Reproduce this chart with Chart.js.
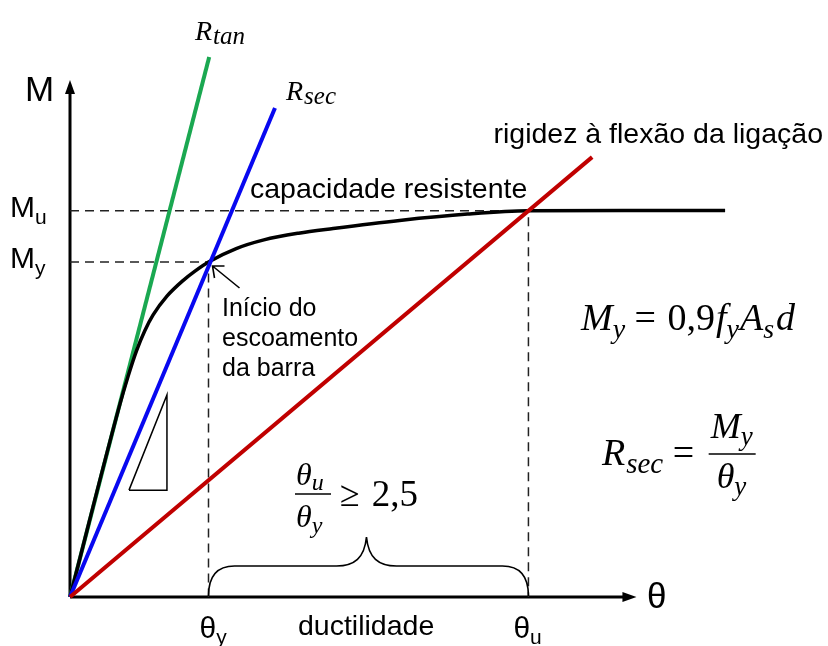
<!DOCTYPE html>
<html>
<head>
<meta charset="utf-8">
<script src="https://cdn.jsdelivr.net/npm/chart.js@4.4.1/dist/chart.umd.min.js"></script>
<style>
  html, body { margin: 0; padding: 0; background: #ffffff; }
  canvas { display: block; }
</style>
</head>
<body>
<canvas id="c" width="828" height="646"></canvas>
<script>
// Moment–rotation curve of a beam–column connection (θ in arbitrary units, M in % of My)
const curveTheta = [0, 3.6, 4.2, 4.8, 5.4, 6.0, 7.0, 8.2, 9.0, 10.0, 12.0, 14.0, 16.5, 19.0, 23.8, 28.7, 33.1, 40.0, 47.3];
const curveM     = [0, 57.5, 66.0, 73.5, 79.5, 84.2, 89.8, 94.6, 97.2, 100, 104.0, 106.6, 108.6, 110.0, 112.4, 114.3, 115.3, 115.4, 115.4];

// Characteristic points
const thetaY = 10.0;   // rotation at start of yielding
const thetaU = 33.1;   // ultimate rotation
const momentY = 100;   // yield moment
const momentU = 115.3; // ultimate moment

// Stiffness lines
const tanTheta = [0, 10.05];  const tanM = [0, 161.2];   // initial tangent stiffness
const secTheta = [0, 14.8];   const secM = [0, 146];     // secant stiffness
const rigTheta = [0, 37.7];   const rigM = [0, 131.3];   // connection flexural stiffness

// Slope triangle marker
const triTheta = [4.26, 7.0, 7.0, 4.26];
const triM     = [31.9, 31.9, 60.3, 31.9];

// Axis extents
const axisThetaMax = 40.9;
const axisMMax = 154.3;

const pts = (xs, ys) => xs.map((x, i) => ({ x: x, y: ys[i] }));

const SANS = '"Liberation Sans", Arial, sans-serif';
const SERIF = '"Liberation Serif", "Times New Roman", serif';

function drawRuns(ctx, x, y, parts) {
  for (const p of parts) {
    ctx.font = p.f;
    ctx.fillText(p.t, x + (p.dx || 0), y + (p.dy || 0));
    x += ctx.measureText(p.t).width + (p.dx || 0) + (p.gap || 0);
  }
  return x;
}

const diagramPlugin = {
  id: 'diagram',
  beforeDatasetsDraw(chart) {
    const ctx = chart.ctx;
    const xs = chart.scales.x, ys = chart.scales.y;
    const ox = xs.getPixelForValue(0), oy = ys.getPixelForValue(0);
    const tx = xs.getPixelForValue(axisThetaMax), ty = ys.getPixelForValue(axisMMax);
    ctx.save();
    ctx.strokeStyle = '#000'; ctx.fillStyle = '#000'; ctx.lineWidth = 3;
    ctx.beginPath();
    ctx.moveTo(ox, oy); ctx.lineTo(ox, ty + 10);
    ctx.moveTo(ox, oy); ctx.lineTo(tx - 10, oy);
    ctx.stroke();
    // arrow heads
    ctx.beginPath();
    ctx.moveTo(ox, ty); ctx.lineTo(ox - 5, ty + 14); ctx.lineTo(ox + 5, ty + 14); ctx.closePath(); ctx.fill();
    ctx.beginPath();
    ctx.moveTo(tx, oy); ctx.lineTo(tx - 14, oy - 5); ctx.lineTo(tx - 14, oy + 5); ctx.closePath(); ctx.fill();
    ctx.restore();
  },
  afterDatasetsDraw(chart) {
    const ctx = chart.ctx;
    const xs = chart.scales.x, ys = chart.scales.y;
    const X = v => xs.getPixelForValue(v), Y = v => ys.getPixelForValue(v);
    ctx.save();
    ctx.fillStyle = '#000'; ctx.strokeStyle = '#000';
    ctx.textBaseline = 'alphabetic';

    // brace spanning the ductility range
    const xL = X(thetaY), xR = X(thetaU), y0 = Y(0);
    const yh = y0 - 31, yp = y0 - 60, xm = (xL + xR) / 2 - 2;
    ctx.lineWidth = 1.6;
    ctx.beginPath();
    ctx.moveTo(xL, y0 - 1);
    ctx.bezierCurveTo(xL, yh + 10, xL + 8, yh, xL + 26, yh);
    ctx.lineTo(xm - 30, yh);
    ctx.bezierCurveTo(xm - 12, yh, xm - 2, yh - 8, xm, yp);
    ctx.bezierCurveTo(xm + 2, yh - 8, xm + 12, yh, xm + 30, yh);
    ctx.lineTo(xR - 26, yh);
    ctx.bezierCurveTo(xR - 8, yh, xR, yh + 10, xR, y0 - 1);
    ctx.stroke();

    // pointer to the yield point
    const px = X(thetaY) + 4, py = Y(momentY) + 4;
    ctx.lineWidth = 1.6;
    ctx.beginPath();
    ctx.moveTo(px + 27, py + 22); ctx.lineTo(px, py);
    ctx.moveTo(px + 12, py); ctx.lineTo(px, py); ctx.lineTo(px + 2, py + 12);
    ctx.stroke();

    // axis labels
    ctx.font = '35px ' + SANS;
    ctx.fillText('M', 25, 101);
    ctx.fillText('θ', 647, 608);
    drawRuns(ctx, 10, Y(momentU) + 6, [{ t: 'M', f: '30px ' + SANS }, { t: 'u', f: '21px ' + SANS, dy: 7 }]);
    drawRuns(ctx, 10, Y(momentY) + 6, [{ t: 'M', f: '30px ' + SANS }, { t: 'y', f: '21px ' + SANS, dy: 7 }]);
    drawRuns(ctx, X(thetaY) - 9, 638, [{ t: 'θ', f: '30px ' + SANS }, { t: 'y', f: '21px ' + SANS, dy: 6 }]);
    drawRuns(ctx, X(thetaU) - 15, 638, [{ t: 'θ', f: '30px ' + SANS }, { t: 'u', f: '21px ' + SANS, dy: 6 }]);

    ctx.font = '28.5px ' + SANS;
    ctx.fillText('ductilidade', 298, 635);
    ctx.fillText('capacidade resistente', 250, 198);
    ctx.textAlign = 'right';
    ctx.fillText('rigidez à flexão da ligação', 823, 143);
    ctx.textAlign = 'left';
    ctx.font = '25px ' + SANS;
    ctx.fillText('Início do', 222, 316);
    ctx.fillText('escoamento', 222, 346);
    ctx.fillText('da barra', 222, 376);

    // formulas
    const I = s => 'italic ' + s + 'px ' + SERIF;
    const U = s => s + 'px ' + SERIF;
    drawRuns(ctx, 195, 40, [{ t: 'R', f: I(28) }, { t: 'tan', f: I(25), dy: 4, dx: 1 }]);
    drawRuns(ctx, 286, 100, [{ t: 'R', f: I(28) }, { t: 'sec', f: I(25), dy: 4, dx: 1 }]);
    drawRuns(ctx, 581, 330, [
      { t: 'M', f: I(38) }, { t: 'y', f: I(28), dy: 8 },
      { t: ' = ', f: U(38), gap: 2 }, { t: '0,9', f: U(38) },
      { t: 'f', f: I(38), dx: 1 }, { t: 'y', f: I(28), dy: 8 },
      { t: 'A', f: I(38), dx: 1 }, { t: 's', f: I(28), dy: 8 },
      { t: 'd', f: I(38), dx: 2 }
    ]);
    let xe = drawRuns(ctx, 602, 465, [
      { t: 'R', f: I(38) }, { t: 'sec', f: I(29), dy: 8, dx: 1 }, { t: ' = ', f: U(38), gap: 5 }
    ]);
    // fraction My / θy
    ctx.lineWidth = 1.6;
    ctx.beginPath(); ctx.moveTo(xe, 454); ctx.lineTo(xe + 47, 454); ctx.stroke();
    drawRuns(ctx, xe + 2, 438, [{ t: 'M', f: I(36) }, { t: 'y', f: I(27), dy: 7 }]);
    drawRuns(ctx, xe + 8, 488, [{ t: 'θ', f: I(36) }, { t: 'y', f: I(27), dy: 7 }]);

    // ductility ratio
    ctx.beginPath(); ctx.moveTo(295, 494); ctx.lineTo(331, 494); ctx.stroke();
    drawRuns(ctx, 296, 485, [{ t: 'θ', f: I(32) }, { t: 'u', f: I(24), dy: 5 }]);
    drawRuns(ctx, 296, 527, [{ t: 'θ', f: I(32) }, { t: 'y', f: I(24), dy: 6 }]);
    drawRuns(ctx, 340, 506, [{ t: '≥', f: U(36), gap: 12 }, { t: '2,5', f: U(37) }]);
    ctx.restore();
  }
};

const lineDs = (label, data, color, width, extra) => Object.assign({
  label: label, data: data, borderColor: color, borderWidth: width,
  pointRadius: 0, fill: false, tension: 0, clip: false, borderCapStyle: 'butt'
}, extra || {});

new Chart(document.getElementById('c'), {
  type: 'scatter',
  data: {
    datasets: [
      lineDs('rigidez à flexão da ligação', pts(rigTheta, rigM), '#c00000', 4, { showLine: true }),
      lineDs('Rsec', pts(secTheta, secM), '#0808f0', 4, { showLine: true }),
      lineDs('capacidade resistente', pts(curveTheta, curveM), '#000000', 3.5, { showLine: true, cubicInterpolationMode: 'monotone' }),
      lineDs('Rtan', pts(tanTheta, tanM), '#1aa851', 4, { showLine: true }),
      lineDs('My', [{ x: 0, y: momentY }, { x: thetaY, y: momentY }, { x: thetaY, y: 0 }], '#222', 1.5, { showLine: true, borderDash: [9, 6] }),
      lineDs('Mu', [{ x: 0, y: momentU }, { x: thetaU, y: momentU }, { x: thetaU, y: 0 }], '#222', 1.5, { showLine: true, borderDash: [9, 6] }),
      lineDs('triângulo', pts(triTheta, triM), '#000', 1.5, { showLine: true })
    ]
  },
  options: {
    responsive: false,
    animation: false,
    devicePixelRatio: 1,
    layout: { padding: { left: 70, right: 65.5, top: 27.5, bottom: 49 } },
    plugins: { legend: { display: false }, tooltip: { enabled: false } },
    scales: {
      x: { type: 'linear', min: 0, max: 50, display: false },
      y: { type: 'linear', min: 0, max: 170, display: false }
    }
  },
  plugins: [diagramPlugin]
});
</script>
</body>
</html>
